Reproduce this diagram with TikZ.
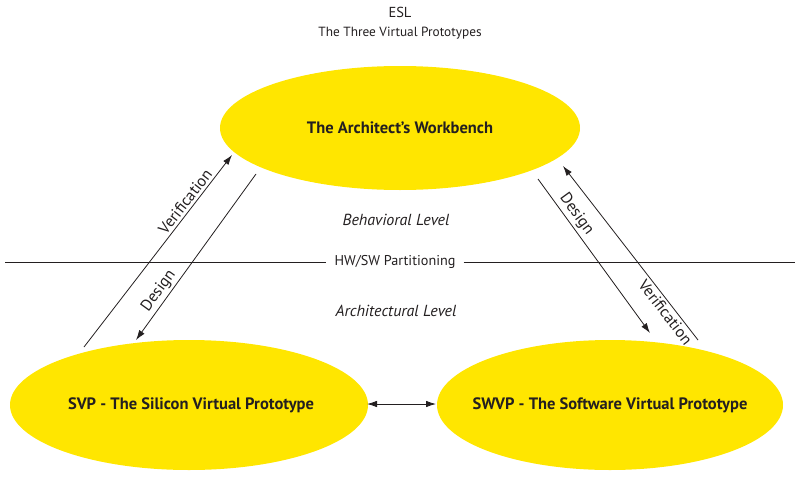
\documentclass[tikz,border=0pt]{standalone}
\usepackage{fontspec}
\setmainfont{PT Sans}
\usetikzlibrary{arrows.meta}
\definecolor{esly}{HTML}{FFE600}
\definecolor{eslt}{HTML}{231F20}
\tikzset{
  conn/.style={draw=eslt, line width=0.8pt, -{Latex[length=10pt,width=6.5pt]}},
  lbl/.style={text=eslt, font=\fontsize{16}{18}\selectfont, inner sep=2.5pt},
  ttl/.style={text=eslt, font=\bfseries\fontsize{16.5}{19}\selectfont},
}
\begin{document}
\begin{tikzpicture}[x=1pt,y=-1pt]
\useasboundingbox (0,0) rectangle (800,479);
% ellipses
\fill[esly] (400,128) ellipse [x radius=180, y radius=62];
\fill[esly] (189,405) ellipse [x radius=179, y radius=65];
\fill[esly] (610,405) ellipse [x radius=173, y radius=65];
\node[ttl] (arch) at (400,128) {The Architect’s Workbench};
\node[ttl] (svp) at (191,405) {SVP - The Silicon Virtual Prototype};
\node[ttl] (swvp) at (610,405) {SWVP - The Software Virtual Prototype};
% titles
\node[text=eslt, font=\fontsize{14.5}{17}\selectfont] (esl) at (400,12) {ESL};
\node[text=eslt, font=\fontsize{13.3}{16}\selectfont] (sub) at (400,33) {The Three Virtual Prototypes};
% levels
\node[text=eslt, font=\itshape\fontsize{16}{18}\selectfont] (beh) at (396,220) {Behavioral Level};
\node[text=eslt, font=\itshape\fontsize{16}{18}\selectfont] (archl) at (396,311) {Architectural Level};
\node[text=eslt, font=\fontsize{14.2}{17}\selectfont, inner sep=0pt] (hwsw) at (395,262) {HW/SW Partitioning};
\coordinate (hl) at (5,262);
\coordinate (hr) at (795,262);
\draw[eslt, line width=0.8pt] (hl) -- ([xshift=-8pt]hwsw.west);
\draw[eslt, line width=0.8pt] ([xshift=8pt]hwsw.east) -- (hr);
% left arrows
\coordinate (lv1) at (84,347);
\coordinate (lv2) at (232,155);
\coordinate (ld1) at (256,174);
\coordinate (ld2) at (136,340);
\draw[conn] (lv1) -- node[lbl, sloped, above, pos=0.73] {Verification} (lv2);
\draw[conn] (ld1) -- node[lbl, sloped, above, pos=0.74] {Design} (ld2);
% right arrows
\coordinate (rd1) at (538,179);
\coordinate (rd2) at (650,333);
\coordinate (rv1) at (698,340);
\coordinate (rv2) at (563,166);
\draw[conn] (rd1) -- node[lbl, sloped, above, pos=0.27] {Design} (rd2);
\draw[conn] (rv1) -- node[lbl, sloped, below, pos=0.19] {Verification} (rv2);
% bottom double arrow
\coordinate (ba) at (367,404);
\coordinate (bb) at (436,404);
\draw[draw=eslt, line width=0.8pt, {Latex[length=10pt,width=6.5pt]}-{Latex[length=10pt,width=6.5pt]}] (ba) -- (bb);
\end{tikzpicture}
\end{document}
